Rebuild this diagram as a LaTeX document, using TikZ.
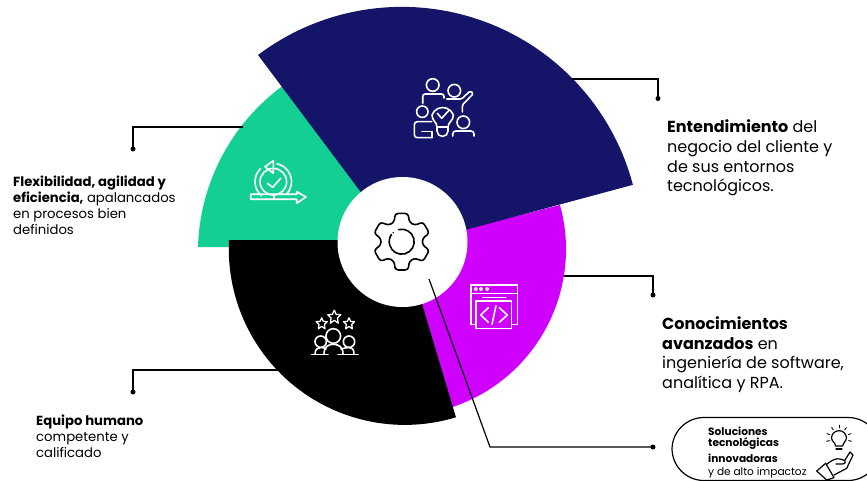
\documentclass[tikz,border=0pt]{standalone}
\usepackage{fontspec}
\setmainfont{Poppins}
\definecolor{navyc}{RGB}{20,20,105}
\definecolor{greenc}{RGB}{20,207,147}
\definecolor{purplec}{RGB}{208,0,255}
\begin{document}
\begin{tikzpicture}[x=1pt,y=-1pt,
  linkstyle/.style={draw=black,line width=1.2pt},
  dotstyle/.style={circle,fill=black,inner sep=0,minimum size=5pt},
  iconstyle/.style={draw=white,line width=1.6pt,line join=round,line cap=round},
  inkstyle/.style={draw=black,line width=1.2pt,line join=round,line cap=round},
  bigtext/.style={anchor=west,align=left,inner sep=0,font=\fontsize{16}{19.6}\selectfont},
  smalltext/.style={anchor=west,align=left,inner sep=0,font=\fontsize{13.2}{16}\selectfont},
  badgetext/.style={anchor=west,align=left,inner sep=0,font=\fontsize{10.6}{11}\selectfont}]
 \useasboundingbox (0,0) rectangle (867,481);
 \clip (0,0) rectangle (867,481);

 \fill[greenc] (402,247) -- (198,247) arc[start angle=-178.34,end angle=-125,radius=207] -- cycle;
 \fill[purplec] (402,245) -- (560,205) arc[start angle=-15.4,end angle=71.5,radius=166.5] -- cycle;
 \fill[black] (403,240) -- (229,240) arc[start angle=182.9,end angle=73.1,radius=176] -- cycle;
 \fill[navyc] (402,247) -- (258,55) arc[start angle=-127,end angle=-14.8,radius=239] -- cycle;
 \node [circle,fill=white,minimum size=130pt,inner sep=0] (hub) at (402.5,242) {};

 \coordinate (navyend) at (572,79);
 \coordinate (navybend) at (658,79);
 \node [dotstyle] (navydot) at (658,98.5) {};
 \draw [linkstyle] (navyend) -- (navybend) -- (navydot.center);
 \coordinate (greenend) at (243,127);
 \coordinate (greenbend) at (133,127);
 \node [dotstyle] (greendot) at (133,149) {};
 \draw [linkstyle] (greenend) -- (greenbend) -- (greendot.center);
 \coordinate (purpleend) at (564,276);
 \coordinate (purplebend) at (653,276);
 \node [dotstyle] (purpledot) at (653,295) {};
 \draw [linkstyle] (purpleend) -- (purplebend) -- (purpledot.center);
 \coordinate (blackend) at (279,370);
 \coordinate (blackbend) at (133,370);
 \node [dotstyle] (blackdot) at (133,392) {};
 \draw [linkstyle] (blackend) -- (blackbend) -- (blackdot.center);
 \coordinate (hubend) at (429,279);
 \coordinate (hubbend) at (490,447);
 \node [dotstyle] (hubdot) at (653,447) {};
 \draw [linkstyle] (hubend) -- (hubbend) -- (hubdot.center);

 \node [bigtext] (navytext) at (667,158) {\textbf{Entendimiento} del\\negocio del cliente y\\de sus entornos\\tecnológicos.};
 \node [smalltext] (greentext) at (13,205) {\textbf{Flexibilidad, agilidad y}\\\textbf{eficiencia,} apalancados\\en procesos bien\\definidos};
 \node [bigtext] (purpletext) at (662,354.5) {\textbf{Conocimientos}\\\textbf{avanzados} en\\ingeniería de software,\\analítica y RPA.};
 \node [smalltext] (blacktext) at (36,436) {\textbf{Equipo humano}\\competente y\\calificado};
 \node [draw=black,line width=1.2pt,rounded corners=32pt,minimum width=208pt,minimum height=63pt,inner sep=0] (badge) at (776,449) {};
 \node [badgetext] (badgetext) at (708,452.5) {\textbf{Soluciones}\\\textbf{tecnológicas}\\[3.5pt]\textbf{innovadoras}\\[2pt]y de alto impactoz};

 \begin{scope}[shift={(401.7,241.7)}]
  \draw [inkstyle,line width=1.6pt,rounded corners=3pt] (103:29)
   \foreach \a in {90,30,-30,-90,-150,-210} { -- (\a+13:29) -- (\a-13:29) -- (\a-21:21) -- (\a-39:21) } -- cycle;
  \draw [inkstyle,line width=1.6pt] (-105:12.5) arc[start angle=-105,end angle=215,radius=12.5];
  \fill (-8.5,-9) circle (0.8);
 \end{scope}

 \draw [iconstyle] (432.7,85) circle (6.3) (454.3,90.7) circle (6.3) (422.3,111.7) circle (5.7) (463.3,122.3) circle (6.3);
 \draw [iconstyle,rounded corners=2.5pt] (422.7,103.3) -- (422.7,94) -- (444,94) -- (444,98);
 \draw [iconstyle,rounded corners=1.5pt] (446.7,99) -- (461.7,99) -- (470,91) -- (473.5,93.5) -- (462.3,105) -- (462.3,112);
 \draw [iconstyle] (437,127) .. controls (437,122) and (432,121) .. (432,115) arc[start angle=-160,end angle=-20,radius=11.4] .. controls (453.4,121) and (448,122) .. (448,127) -- cycle;
 \draw [iconstyle] (437,127) -- (437,131) arc[start angle=180,end angle=0,radius=5.5] -- (448,127);
 \draw [iconstyle] (437.3,113.3) -- (441.7,118.3) -- (449.3,110);
 \draw [iconstyle,rounded corners=3pt] (431.7,121.7) -- (414.3,121.7) -- (414.3,137.7) -- (431.7,137.7);
 \draw [iconstyle] (431.7,137.7) -- (431.7,131.7) -- (422,131.7);
 \draw [iconstyle,rounded corners=3pt] (452.7,136) -- (452.7,131) -- (474,131) -- (474,136);

 \draw [iconstyle] (273.3,181.7) circle (13.3);
 \draw [iconstyle] (277,163.8) arc[start angle=-78,end angle=40,radius=18.3];
 \draw [iconstyle] (255,181.7) arc[start angle=180,end angle=130,radius=18.3];
 \draw [iconstyle] (255,181.7) arc[start angle=180,end angle=225,radius=18.3];
 \draw [iconstyle] (273.3,160.7) -- (265,166.7) -- (273.3,173.3) -- cycle;
 \draw [iconstyle] (267.3,183.3) -- (272.7,187.3) -- (280.7,178.3);
 \draw [iconstyle] (296.7,194.3) -- (250.7,194.3) -- (250.7,199.3) -- (296.7,199.3) -- (296.7,203.3) -- (306,197) -- (296.7,191.7) -- cycle;
 \draw [iconstyle] (274,194.3) -- (274,199.3);

 \draw [iconstyle,line width=1.2pt] (476,324.3) -- (471,324.3) -- (471,285) -- (517.3,285) -- (517.3,324.3) -- (511.7,324.3);
 \draw [iconstyle,line width=1.2pt] (476,301) rectangle (511.7,328.3);
 \draw [iconstyle,line width=1.2pt] (471,293.3) -- (517.3,293.3) (482.7,297.3) -- (506,297.3);
 \foreach \x in {475.7,481,487.3}
  \draw [iconstyle,line width=1.2pt] (\x,289) circle (1.5);
 \draw [iconstyle] (488.3,307.7) -- (480.7,315) -- (488.3,322.3) (499.3,307.7) -- (507.3,315) -- (499.3,322.3) (496,305.7) -- (492,324.3);

 \foreach \x/\y/\r in {334.3/316.7/6.5,321.7/323.3/5.5,349/323.3/5.5}
  \draw [iconstyle,line width=1.3pt] (\x,\y-\r) -- (\x+.3*\r,\y-.35*\r) -- (\x+\r,\y-.3*\r) -- (\x+.5*\r,\y+.2*\r) -- (\x+.6*\r,\y+\r) -- (\x,\y+.55*\r) -- (\x-.6*\r,\y+\r) -- (\x-.5*\r,\y+.2*\r) -- (\x-\r,\y-.3*\r) -- (\x-.3*\r,\y-.35*\r) -- cycle;
 \draw [iconstyle] (333.3,336) circle (7.3) (320.7,341.7) circle (5.7) (349,341.7) circle (5.7);
 \draw [iconstyle] (311.7,354.3) -- (328,354.3) (338,354.3) -- (358,354.3);
 \draw [iconstyle] (315,354.3) .. controls (315,349) and (318,347.5) .. (321,347.5) .. controls (323,347.5) and (325,348) .. (326,349);
 \draw [iconstyle] (324,354.3) .. controls (324,347) and (328,344.3) .. (333.3,344.3) .. controls (339,344.3) and (343,347) .. (343,354.3);
 \draw [iconstyle] (354,354.3) .. controls (354,349) and (352,347.5) .. (349,347.5) .. controls (347,347.5) and (345,348) .. (341,349);

 \draw [inkstyle] (835.5,446) .. controls (835.5,442) and (831.5,442) .. (831.5,437.5) arc[start angle=-175,end angle=-5,radius=7.5] .. controls (846.5,442) and (842.5,442) .. (842.5,446) -- cycle;
 \draw [inkstyle] (836,449) -- (842,449);
 \foreach \a in {-160,-125,-90,-55,-20,15,165}
  \draw [inkstyle,line width=.9pt] (839,438) ++(\a:10) -- ++(\a:2.8);
 \draw [inkstyle] (816.7,471) -- (825.7,463.3) -- (834,477.7) -- (826.7,480) -- cycle;
 \draw [inkstyle] (826.7,464.3) .. controls (832,460) and (836,458) .. (840,459) -- (845,460.5) .. controls (846,462) and (845,464) .. (842,464) -- (836,464);
 \draw [inkstyle] (845,460) -- (850,452) -- (853,455) -- (846.7,468.3) -- (834,475);
\end{tikzpicture}
\end{document}
